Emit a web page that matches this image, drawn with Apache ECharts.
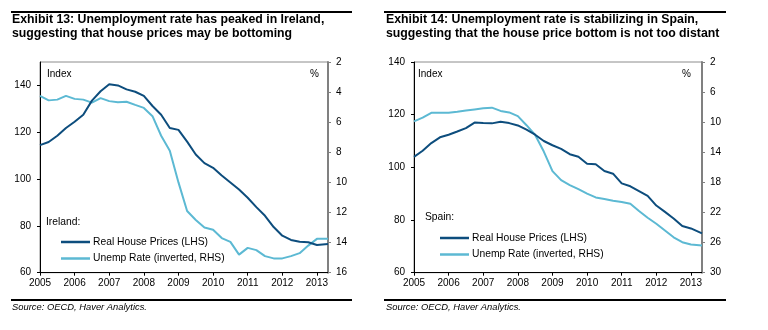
<!DOCTYPE html>
<html><head><meta charset="utf-8">
<script src="https://cdn.jsdelivr.net/npm/echarts@6/dist/echarts.min.js"></script>
<style>html,body{margin:0;padding:0;background:#fff}#c{width:768px;height:330px}</style>
</head><body><div id="c"></div>
<script>
const quarterX = [2005,2005.25,2005.5,2005.75,2006,2006.25,2006.5,2006.75,2007,2007.25,2007.5,2007.75,2008,2008.25,2008.5,2008.75,2009,2009.25,2009.5,2009.75,2010,2010.25,2010.5,2010.75,2011,2011.25,2011.5,2011.75,2012,2012.25,2012.5,2012.75,2013,2013.32];
const yearTicks = ['2005','2006','2007','2008','2009','2010','2011','2012','2013'];
const irelandHouse = [114.5,115.8,118.5,121.8,124.5,127.5,133.5,137.5,140.5,140,138.3,137.3,135.5,131.2,127.5,121.8,121,116,110.5,106.8,104.8,101.5,98.5,95.5,92,88,84.3,79.5,75.8,74,73.2,73,71.8,72.3];
const irelandUnemp = [4.25,4.55,4.5,4.25,4.45,4.5,4.7,4.4,4.6,4.68,4.64,4.85,5.05,5.6,6.9,7.9,10.0,11.9,12.5,13.0,13.15,13.7,13.95,14.8,14.35,14.5,14.9,15.05,15.05,14.9,14.7,14.2,13.75,13.75];
const spainHouse = [104,106.3,109.2,111.4,112.4,113.6,114.9,117,116.8,116.7,117.3,116.8,115.9,114.3,112.4,110,108.4,107,105,104,101.4,101.2,98.6,97.6,93.9,92.8,91,89.2,85.5,83.1,80.6,77.7,76.8,74.9];
const spainUnemp = [9.9,9.4,8.75,8.73,8.73,8.6,8.45,8.3,8.15,8.07,8.5,8.7,9.2,10.4,11.7,13.9,16.5,17.7,18.35,18.9,19.5,20.0,20.2,20.45,20.6,20.85,21.8,22.7,23.5,24.4,25.3,25.95,26.25,26.4];
const names = ['Real House Prices (LHS)','Unemp Rate (inverted, RHS)'];
const DARK = '#0d4d7d', LIGHT = '#5cb9d3';
const F = 'Liberation Sans, Arial, sans-serif';

function pairs(xs, ys){ return xs.map((x,i)=>[x, ys[i]]); }

function xAxis(gi){
  return {type:'value', gridIndex:gi, min:2005, max:2013.32, interval:1,
    axisLine:{lineStyle:{color:'#000',width:1}},
    axisTick:{show:true,length:3,lineStyle:{color:'#000'}},
    splitLine:{show:false},
    axisLabel:{showMaxLabel:false, margin:6, color:'#000', fontFamily:F, fontSize:10,
      formatter:v=>yearTicks[Math.round(v-2005)] || ''}};
}
function yLeft(gi,min,max,interval){
  return {type:'value', gridIndex:gi, position:'left', min, max, interval,
    axisLine:{show:true,lineStyle:{color:'#000',width:1}},
    axisTick:{show:true,length:3,lineStyle:{color:'#000'}},
    splitLine:{show:false},
    axisLabel:{showMaxLabel: max % interval === 0 ? true : false, margin:9, color:'#000', fontFamily:F, fontSize:10}};
}
function yRight(gi,min,max,interval){
  return {type:'value', gridIndex:gi, position:'right', inverse:true, min, max, interval,
    axisLine:{show:true,lineStyle:{color:'#808080',width:2}},
    axisTick:{show:true,length:3,lineStyle:{color:'#808080'}},
    splitLine:{show:false},
    axisLabel:{margin:8, color:'#000', fontFamily:F, fontSize:10}};
}
function series(name, xi, yi, data, color){
  return {name, type:'line', xAxisIndex:xi, yAxisIndex:yi, data, symbol:'none', smooth:false,
    lineStyle:{color, width:2}, itemStyle:{color}, z:3};
}
function legend(left, top){
  return {show:true, orient:'vertical', left, top, data:names, icon:'rect', itemWidth:29, itemHeight:2.5,
    itemGap:6.5, selectedMode:false,
    textStyle:{fontFamily:F, fontSize:10.3, color:'#000', padding:[0,0,0,-2]}};
}
function txt(x,y,text,style){
  return {type:'text', left:x, top:y, silent:true,
    style:Object.assign({text, fontFamily:F, fontSize:10, fill:'#000'}, style||{})};
}
function rule(x1,x2,y){
  return {type:'line', silent:true, shape:{x1,y1:y,x2,y2:y}, style:{stroke:'#000', lineWidth:2}};
}

const chart = echarts.init(document.getElementById('c'), null, {renderer:'canvas'});
chart.setOption({
  animation:false,
  backgroundColor:'#fff',
  grid:[
    {left:40, top:62, width:288, height:210.7, show:true, borderColor:'#8c8c8c', borderWidth:1, backgroundColor:'transparent'},
    {left:414, top:62, width:288, height:210.7, show:true, borderColor:'#8c8c8c', borderWidth:1, backgroundColor:'transparent'}
  ],
  xAxis:[xAxis(0), xAxis(1)],
  yAxis:[yLeft(0,60,150,20), yRight(0,2,16,2), yLeft(1,60,140,20), yRight(1,2,30,4)],
  legend:[legend(56,232), legend(435,228)],
  series:[
    series(names[1],0,1,pairs(quarterX,irelandUnemp),LIGHT),
    series(names[0],0,0,pairs(quarterX,irelandHouse),DARK),
    series(names[1],1,3,pairs(quarterX,spainUnemp),LIGHT),
    series(names[0],1,2,pairs(quarterX,spainHouse),DARK)
  ],
  graphic:[
    rule(11,352,12), rule(384,726,12), rule(11,352,300), rule(384,726,300),
    txt(12,13,'Exhibit 13: Unemployment rate has peaked in Ireland,\nsuggesting that house prices may be bottoming',{fontWeight:'bold',fontSize:12.3,lineHeight:14}),
    txt(386,13,'Exhibit 14: Unemployment rate is stabilizing in Spain,\nsuggesting that the house price bottom is not too distant',{fontWeight:'bold',fontSize:12.3,lineHeight:14}),
    txt(12,303,'Source: OECD, Haver Analytics.',{fontStyle:'italic',fontSize:9.4}),
    txt(386,303,'Source: OECD, Haver Analytics.',{fontStyle:'italic',fontSize:9.4}),
    txt(47,69,'Index'), txt(310,69,'%'),
    txt(418,69,'Index'), txt(682,69,'%'),
    txt(46,217,'Ireland:',{fontSize:10.3}),
    txt(425,212,'Spain:',{fontSize:10.3})
  ]
});
</script></body></html>
